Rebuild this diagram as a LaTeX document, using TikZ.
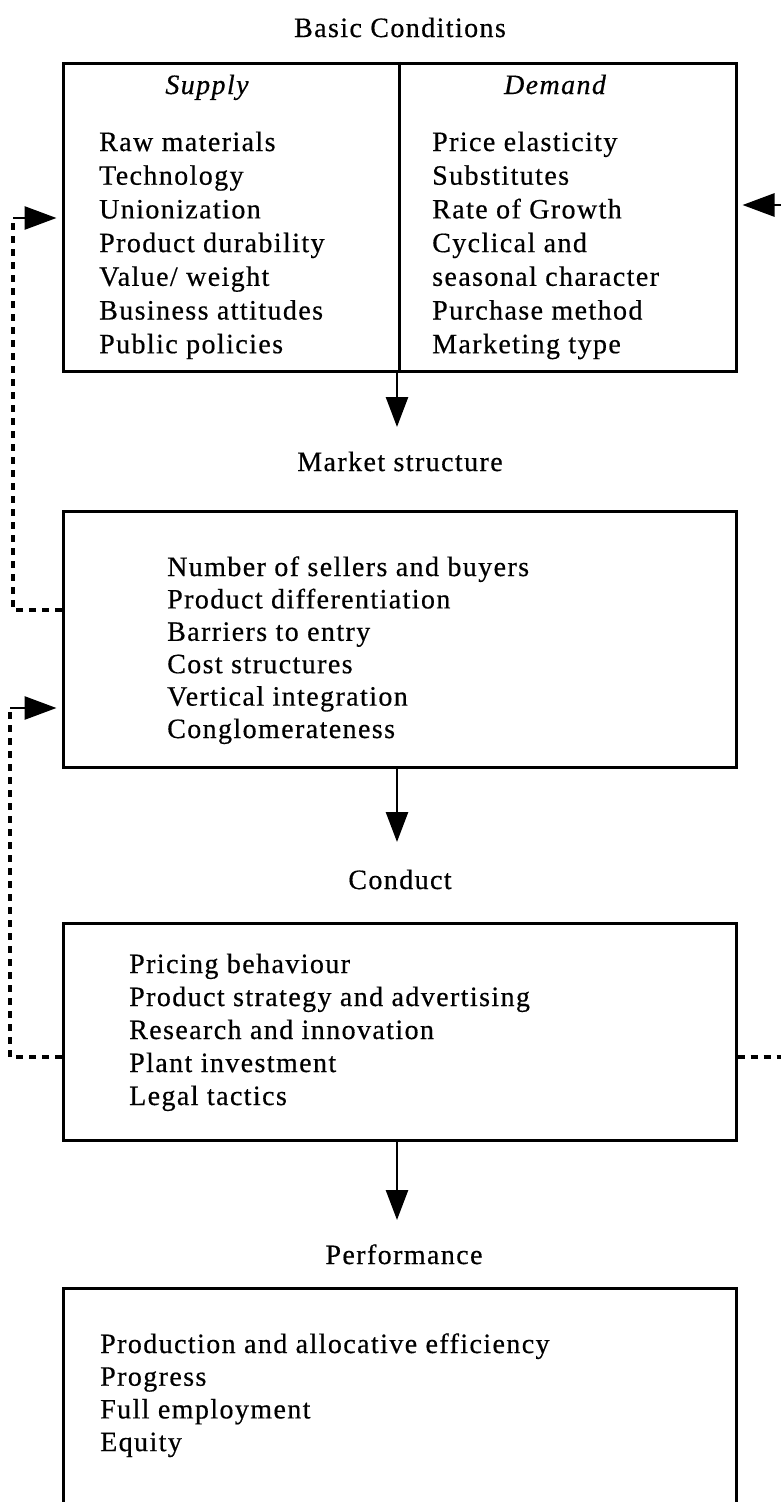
\documentclass[tikz,border=0pt]{standalone}
\usepackage{fontspec}
\setmainfont{Liberation Serif}[LetterSpace=5,FakeBold=0.5]
\usetikzlibrary{arrows.meta}
\newcommand\diagfont{\fontsize{28}{33}\selectfont}
\begin{document}
\begin{tikzpicture}[x=1pt,y=-1pt,
  box/.style={draw, line width=3pt, inner sep=0pt},
  item/.style={anchor=base west, inner sep=0pt, font=\diagfont},
  ttl/.style={anchor=base, inner sep=0pt, font=\diagfont},
  arr/.style={line width=2.6pt, -{Triangle[length=30pt,width=22pt]}},
  harr/.style={line width=2.8pt, -{Triangle[length=32pt,width=23pt]}, shorten >=5pt},
  fb/.style={line width=3.4pt, dash pattern=on 7pt off 6pt}]
\useasboundingbox (0,0) rectangle (781,1502);
\begin{scope}
\clip (0,0) rectangle (781,1502);
% boxes
\node[box, minimum width=673pt, minimum height=308pt] (b1) at (399.5,217) {};
\node[box, minimum width=673pt, minimum height=256pt] (b2) at (399.5,639) {};
\node[box, minimum width=673pt, minimum height=217pt] (b3) at (399.5,1031.5) {};
\node[box, minimum width=673pt, minimum height=250pt] (b4) at (399.5,1413) {};
\end{scope}
\draw[line width=3pt] (b1.north) -- (b1.south);
% titles
\node[ttl] (t1) at (400,37) {Basic Conditions};
\node[ttl] (t2) at (400,471) {Market structure};
\node[ttl] (t3) at (400,889) {Conduct};
\node[ttl] (t4) at (404,1264) {Performance};
\node[ttl, font=\diagfont\itshape] (sup) at (207,94) {Supply};
\node[ttl, font=\diagfont\itshape] (dem) at (555,94) {Demand};
% items
\foreach \t [count=\i from 0] in {Raw materials,Technology,Unionization,Product durability,Value/ weight,Business attitudes,Public policies}
  \node[item] (s\i) at (99,{151+33.7*\i}) {\t};
\foreach \t [count=\i from 0] in {Price elasticity,Substitutes,Rate of Growth,Cyclical and,seasonal character,Purchase method,Marketing type}
  \node[item] (d\i) at (432,{151+33.7*\i}) {\t};
\foreach \t [count=\i from 0] in {Number of sellers and buyers,Product differentiation,Barriers to entry,Cost structures,Vertical integration,Conglomerateness}
  \node[item] (m\i) at (167,{576+32.4*\i}) {\t};
\foreach \t [count=\i from 0] in {Pricing behaviour,Product strategy and advertising,Research and innovation,Plant investment,Legal tactics}
  \node[item] (c\i) at (129,{973+33*\i}) {\t};
\foreach \t [count=\i from 0] in {Production and allocative efficiency,Progress,Full employment,Equity}
  \node[item] (p\i) at (100,{1353+32.7*\i}) {\t};
% main arrows
\coordinate (a1) at (397,427);
\coordinate (a2) at (397,842);
\coordinate (a3) at (397,1220);
\draw[arr] (b1.south -| a1) -- (a1);
\draw[arr] (b2.south -| a2) -- (a2);
\draw[arr] (b3.south -| a3) -- (a3);
% feedback left upper
\coordinate (lu1) at (13,610);
\coordinate (lu2) at (13,218);
\draw[fb] (b2.west |- lu1) -- (lu1) -- (lu2);
\draw[harr] (lu2) -- (b1.west |- lu2);
% feedback left lower
\coordinate (ll1) at (10,1057);
\coordinate (ll2) at (10,708);
\draw[fb] (b3.west |- ll1) -- (ll1) -- (ll2);
\draw[harr] (ll2) -- (b2.west |- ll2);
% feedback right
\coordinate (r1) at (781,1057);
\coordinate (r2) at (781,205);
\draw[fb] (b3.east |- r1) -- (r1);
\draw[harr] (r2) -- (b1.east |- r2);
\end{tikzpicture}
\end{document}
